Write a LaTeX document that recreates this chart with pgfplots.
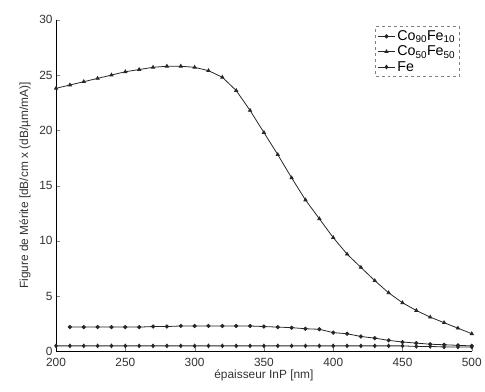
\documentclass[border=0pt]{standalone}
\usepackage{pgfplots}
\pgfplotsset{compat=1.18}
\usepackage{fontspec}
\setmainfont{Liberation Sans}
\setsansfont{Liberation Sans}

\begin{document}
\begin{tikzpicture}
\begin{axis}[
    scale only axis,
    width=420pt, height=335pt,
    xmin=200, xmax=500, ymin=0, ymax=30,
    xtick={200,250,...,500}, ytick={0,5,...,30},
    axis x line*=bottom, axis y line*=left,
    tick align=inside,
    /pgf/number format/assume math mode=true,
    tick label style={font=\large, text=black!80},
    xticklabel style={yshift=-3pt},
    xlabel={épaisseur InP [nm]},
    ylabel={Figure de Mérite [dB/cm x (dB/µm/mA)]},
    label style={font=\large, text=black!80},
    xlabel style={yshift=3pt, name=xlab},
    ylabel style={yshift=2pt, name=ylab},
    legend style={font=\Large, draw=black!50, dashed, inner sep=2pt, row sep=0pt,
                  at={(0.97,0.98)}, anchor=north east},
    legend cell align=left,
    every axis plot/.append style={line width=0.8pt},
]
\addplot[black!85, mark=*, mark size=1.7pt] coordinates {
(210,2.2)(220,2.2)(230,2.2)(240,2.2)(250,2.2)(260,2.2)(270,2.25)(280,2.25)
(290,2.3)(300,2.3)(310,2.3)(320,2.3)(330,2.3)(340,2.3)(350,2.25)(360,2.2)
(370,2.15)(380,2.05)(390,2.0)(400,1.7)(410,1.6)(420,1.35)(430,1.2)(440,1.0)
(450,0.85)(460,0.75)(470,0.65)(480,0.6)(490,0.55)(500,0.5)
};
\addlegendentry{Co\textsubscript{90}Fe\textsubscript{10}}
\addplot[black!85, mark=triangle*, mark size=1.8pt] coordinates {
(200,23.8)(210,24.1)(220,24.4)(230,24.7)(240,25.0)(250,25.3)(260,25.5)(270,25.7)
(280,25.8)(290,25.8)(300,25.7)(310,25.4)(320,24.8)(330,23.6)(340,21.8)(350,19.8)
(360,17.8)(370,15.7)(380,13.7)(390,12.0)(400,10.3)(410,8.8)(420,7.6)(430,6.4)
(440,5.3)(450,4.4)(460,3.7)(470,3.1)(480,2.6)(490,2.1)(500,1.6)
};
\addlegendentry{Co\textsubscript{50}Fe\textsubscript{50}}
\addplot[black!85, mark=diamond*, mark size=1.8pt] coordinates {
(200,0.5)(210,0.5)(220,0.5)(230,0.5)(240,0.5)(250,0.5)(260,0.5)(270,0.5)
(280,0.5)(290,0.5)(300,0.5)(310,0.5)(320,0.5)(330,0.5)(340,0.5)(350,0.5)
(360,0.5)(370,0.5)(380,0.5)(390,0.5)(400,0.5)(410,0.5)(420,0.5)(430,0.5)
(440,0.5)(450,0.5)(460,0.45)(470,0.45)(480,0.4)(490,0.4)(500,0.4)
};
\addlegendentry{Fe}
\end{axis}
\path (current axis.north) ++(0,20pt) coordinate (topmargin);
\path (topmargin) -- (topmargin);
\path (ylab.north) ++(-16pt,0) coordinate (leftmargin);
\path (leftmargin) -- (leftmargin);
\path (xlab.south) ++(0,-7pt) coordinate (botmargin);
\path (botmargin) -- (botmargin);
\end{tikzpicture}
\end{document}
